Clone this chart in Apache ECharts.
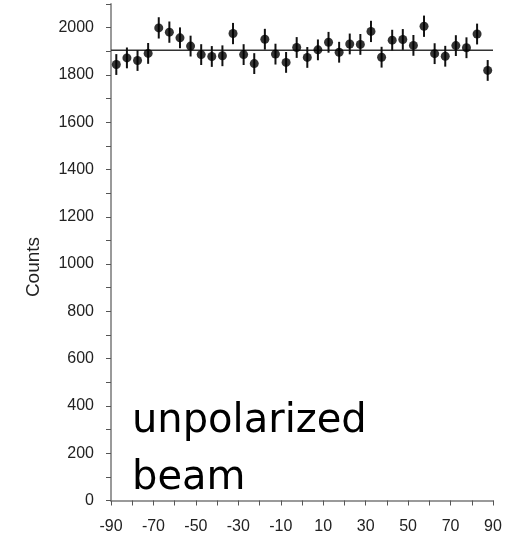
<!DOCTYPE html>
<html>
<head>
<meta charset="utf-8">
<script src="https://cdn.jsdelivr.net/npm/echarts@6/dist/echarts.min.js"></script>
<style>
html,body{margin:0;padding:0;background:#fff;}
#chart{width:519px;height:537px;}
</style>
</head>
<body>
<div id="chart"></div>
<script>
const angles = [-87.5, -82.5, -77.5, -72.5, -67.5, -62.5, -57.5, -52.5, -47.5, -42.5, -37.5, -32.5,
  -27.5, -22.5, -17.5, -12.5, -7.5, -2.5, 2.5, 7.5, 12.5, 17.5, 22.5, 27.5,
  32.5, 37.5, 42.5, 47.5, 52.5, 57.5, 62.5, 67.5, 72.5, 77.5, 82.5, 87.5];
const counts = [1844, 1872, 1861, 1891, 1999, 1981, 1957, 1922, 1886, 1878, 1881, 1975,
  1886, 1848, 1951, 1888, 1853, 1916, 1874, 1906, 1938, 1896, 1931, 1929,
  1984, 1875, 1947, 1950, 1925, 2006, 1890, 1879, 1924, 1915, 1973, 1819];
const errors = [44, 44, 44, 44, 45, 45, 44, 44, 44, 44, 44, 45,
  44, 44, 44, 44, 44, 44, 44, 44, 44, 44, 44, 44,
  45, 44, 44, 44, 44, 45, 44, 44, 44, 44, 44, 44];
const fitX = [-90, 90];
const fitY = [1904, 1904];
const xTickLabels = [-90, -70, -50, -30, -10, 10, 30, 50, 70, 90];
const yTickLabels = [0, 200, 400, 600, 800, 1000, 1200, 1400, 1600, 1800, 2000];
const yAxisTitle = 'Counts';
const annotation = ['unpolarized', 'beam'];

const chart = echarts.init(document.getElementById('chart'));
const axisColor = '#9a9a9a';
const labelFont = {color: '#222', fontFamily: 'Liberation Sans', fontSize: 16};

chart.setOption({
  animation: false,
  grid: {left: 111, right: 26, top: 4, bottom: 36.5},
  xAxis: {
    type: 'value', min: -90, max: 90, interval: 10,
    axisLine: {onZero: false, lineStyle: {color: axisColor, width: 2}},
    axisTick: {length: 5, lineStyle: {color: '#555', width: 1}},
    splitLine: {show: false},
    axisLabel: Object.assign({margin: 18, formatter: v => xTickLabels.includes(v) ? String(v) : ''}, labelFont)
  },
  yAxis: {
    type: 'value', min: 0, max: 2100, interval: 100,
    axisLine: {show: true, onZero: false, lineStyle: {color: axisColor, width: 2}},
    axisTick: {show: true, length: 5, lineStyle: {color: '#555', width: 1}},
    splitLine: {show: false},
    axisLabel: Object.assign({margin: 17, formatter: v => yTickLabels.includes(v) ? String(v) : ''}, labelFont)
  },
  graphic: [
    {type: 'text', x: 34, y: 267, rotation: Math.PI / 2,
      style: {text: yAxisTitle, font: '19px "Liberation Sans"', fill: '#222', align: 'center', verticalAlign: 'middle'}},
    {type: 'text', left: 132, top: 402, style: {text: annotation[0], font: '40px "DejaVu Sans"', fill: '#000'}},
    {type: 'text', left: 132, top: 459, style: {text: annotation[1], font: '40px "DejaVu Sans"', fill: '#000'}}
  ],
  series: [
    {
      type: 'line', data: fitX.map((x, i) => [x, fitY[i]]), symbol: 'none',
      lineStyle: {color: '#333', width: 1.5}, z: 1
    },
    {
      type: 'custom', z: 2,
      data: angles.map((a, i) => [a, counts[i], errors[i]]),
      renderItem: function (params, api) {
        const x = api.value(0), y = api.value(1), e = api.value(2);
        const p1 = api.coord([x, y + e]);
        const p2 = api.coord([x, y - e]);
        return {type: 'line', shape: {x1: p1[0], y1: p1[1], x2: p2[0], y2: p2[1]},
          style: {stroke: '#111', lineWidth: 2}};
      }
    },
    {
      type: 'scatter', z: 3, symbol: 'circle', symbolSize: 9,
      data: angles.map((a, i) => [a, counts[i]]),
      itemStyle: {color: '#000'}
    }
  ]
});
</script>
</body>
</html>
